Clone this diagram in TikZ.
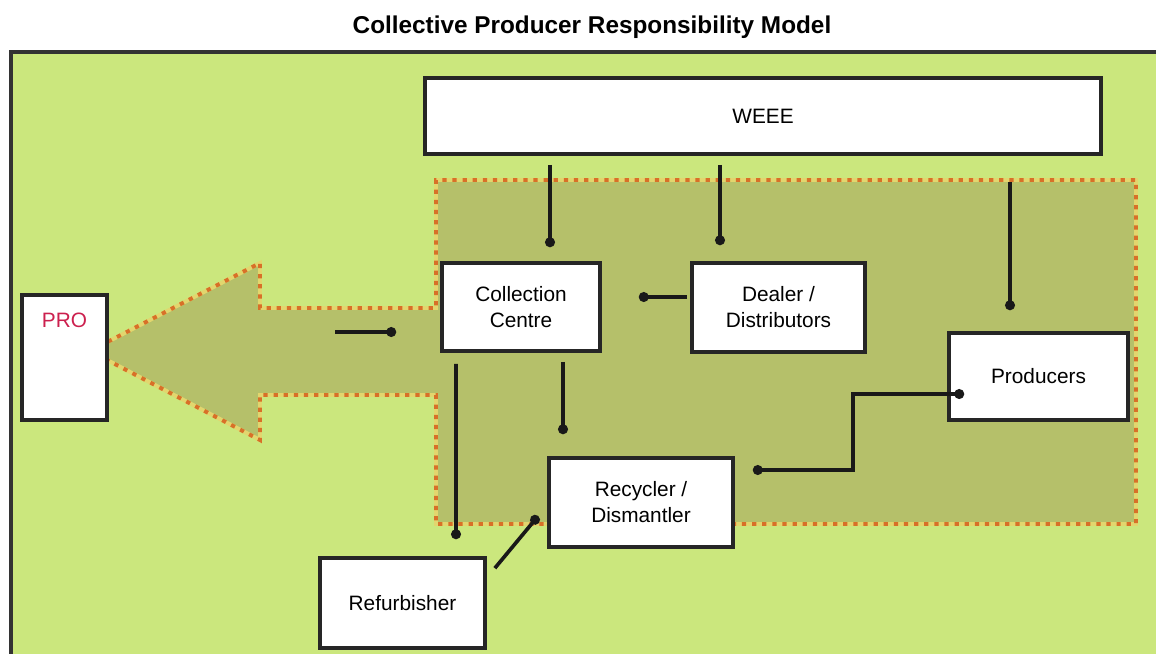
\documentclass[tikz,border=0pt]{standalone}
\usepackage{fontspec}
\setmainfont{Liberation Sans}
\usetikzlibrary{arrows.meta,calc}

\definecolor{lightgreen}{RGB}{203,231,125}
\definecolor{olive}{RGB}{181,192,106}
\definecolor{dotorange}{RGB}{216,112,40}
\definecolor{dotyellow}{RGB}{226,214,110}
\definecolor{prored}{RGB}{204,32,78}

\begin{document}
\begin{tikzpicture}[x=0.025cm, y=-0.025cm,
    box/.style={draw=black!85, line width=2.6pt, fill=white, align=center,
      inner sep=0pt, font=\fontsize{14.8}{18.5}\selectfont},
    flow/.style={line width=2.6pt, black!90, -{Circle[length=7pt]}},
    twoway/.style={flow, {Circle[length=7pt]}-{Circle[length=7pt]}},
    zone/.style={fill=olive, draw=dotyellow, line width=2.8pt,
      postaction={draw=dotorange, line width=2.8pt, dash pattern=on 3pt off 4.2pt}}]
  \clip (0, 0) rectangle (1156, 653);
  \fill[white] (0, 0) rectangle (1156, 653);
  \filldraw[fill=lightgreen, draw=black!80, line width=2.4pt] (11, 52) rectangle (1180, 680);
  \node[font=\fontsize{17.3}{19}\selectfont\bfseries] (title) at (592, 27) {Collective Producer Responsibility Model};
  \path[zone] (90, 351) -- (260, 263) -- (260, 308) -- (436, 308) -- (436, 180) -- (1136, 180)
    -- (1136, 524) -- (436, 524) -- (436, 395) -- (260, 395) -- (260, 440) -- cycle;
  \node[box, minimum width=16.9cm, minimum height=1.9cm] (weee) at (763, 116) {WEEE};
  \node[box, minimum width=2.125cm, minimum height=3.125cm,
    label={[text=prored, font=\fontsize{14.8}{18.5}\selectfont, anchor=center, yshift=-0.68cm]north:PRO}] (pro) at (64.5, 357.5) {};
  \node[box, minimum width=3.95cm, minimum height=2.2cm] (cc) at (521, 307) {Collection\\Centre};
  \node[box, minimum width=4.325cm, minimum height=2.225cm] (dealer) at (778.5, 307.5) {Dealer /\\Distributors};
  \node[box, minimum width=4.475cm, minimum height=2.175cm] (prod) at (1038.5, 376.5) {Producers};
  \node[box, minimum width=4.6cm, minimum height=2.225cm] (recyc) at (641, 502.5) {Recycler /\\Dismantler};
  \node[box, minimum width=4.125cm, minimum height=2.25cm] (refurb) at (402.5, 603) {Refurbisher};
  \draw[flow] ($(weee.south)+(-213, 9)$) -- ($(cc.north)+(29, -14)$);
  \draw[flow] ($(weee.south)+(-43, 9)$) -- ($(dealer.north)+(-58.5, -16)$);
  \draw[flow] ($(weee.south)+(247, 26)$) -- ($(prod.north)+(-28.5, -21)$);
  \draw[flow] ($(dealer.west)+(-3, -10.5)$) -- ($(cc.east)+(37, -10)$);
  \draw[flow] ($(cc.west)+(-105, 25)$) -- ($(cc.west)+(-44, 25)$);
  \draw[flow] ($(cc.south)+(42, 9)$) -- ($(recyc.north)+(-78, -22)$);
  \draw[flow] ($(cc.south)+(-65, 11)$) -- ($(refurb.north)+(53.5, -17)$);
  \draw[flow] ($(refurb.north east)+(8, 12)$) -- ($(recyc.west)+(-9, 13.5)$);
  \draw[twoway] ($(prod.west)+(17, 17.5)$) -- ++(-111, 0) |- ($(recyc.east)+(18, -32.5)$);
\end{tikzpicture}
\end{document}
